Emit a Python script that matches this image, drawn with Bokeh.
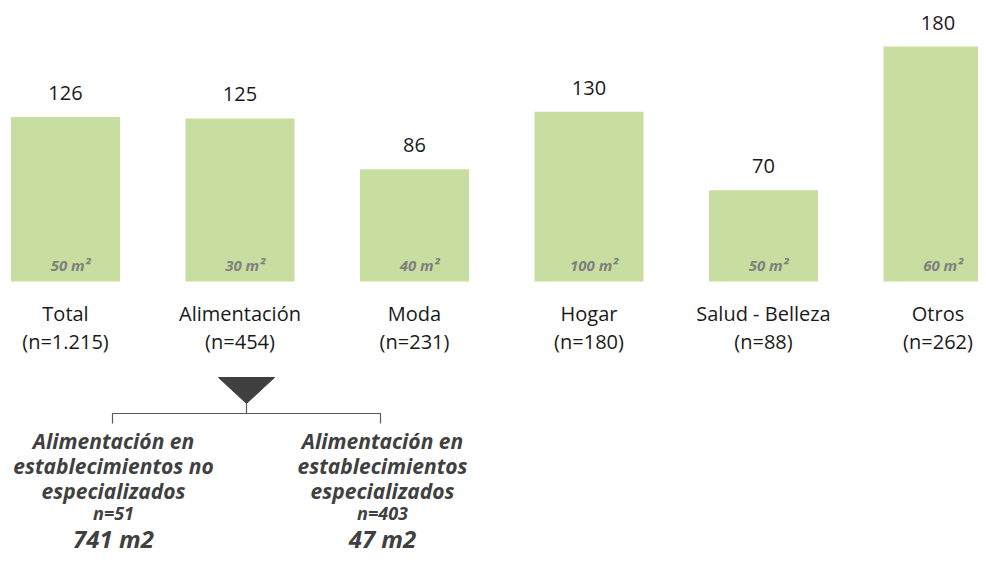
from bokeh.plotting import figure
from bokeh.models import Range1d, ColumnDataSource
from bokeh.core.properties import value
from bokeh.embed import file_html
from bokeh.resources import INLINE

categories = ["Total", "Alimentación", "Moda", "Hogar", "Salud - Belleza", "Otros"]
counts = ["(n=1.215)", "(n=454)", "(n=231)", "(n=180)", "(n=88)", "(n=262)"]
values = [126, 125, 86, 130, 70, 180]
areas = ["50 m²", "30 m²", "40 m²", "100 m²", "50 m²", "60 m²"]

sub_titles = [["Alimentación en", "establecimientos no", "especializados"],
              ["Alimentación en", "establecimientos", "especializados"]]
sub_n = ["n=51", "n=403"]
sub_area = ["741 m2", "47 m2"]

FONT = "Open Sans"
W, H = 978, 554
SPACING = 174.5
PXX = 1 / SPACING  # data units per px (x)
PXY = 1 / 1.305    # data units per px (y)
X0_PX = 65         # px position of first bar center
Y0_PX = 281        # px position of baseline


def dx(px):
    """pixel column -> data x"""
    return (px - X0_PX) * PXX


def dy(px):
    """pixel row -> data y"""
    return (Y0_PX - px) * PXY


p = figure(width=W, height=H, output_backend="svg", toolbar_location=None,
           x_range=Range1d(dx(0), dx(W)),
           y_range=Range1d(dy(H), dy(0)),
           min_border=0, outline_line_color=None)
p.axis.visible = False
p.grid.visible = False
p.background_fill_color = "white"
p.border_fill_color = "white"

TXT = "#1a1a1a"
xs = list(range(len(categories)))
src = ColumnDataSource(dict(x=xs, top=values, cat=categories, cnt=counts,
                            lab=[str(v) for v in values],
                            ly=[v + 24 * PXY for v in values]))
p.vbar(x="x", top="top", bottom=0, width=109 * PXX, source=src,
       fill_color="#c8dea0", line_color=None)

p.text(x="x", y="ly", text="lab", source=src, text_font=value(FONT), text_font_size="20px",
       text_align="center", text_baseline="middle", text_color=TXT)
p.text(x="x", y=dy(313), text="cat", source=src, text_font=value(FONT), text_font_size="20px",
       text_align="center", text_baseline="middle", text_color=TXT)
p.text(x="x", y=dy(341), text="cnt", source=src, text_font=value(FONT), text_font_size="20px",
       text_align="center", text_baseline="middle", text_color=TXT)
src_a = ColumnDataSource(dict(x=[i + 5 * PXX for i in xs], y=[17 * PXY] * 6, area=areas))
p.text(x="x", y="y", text="area", source=src_a, text_font=value(FONT), text_font_size="15px",
       text_font_style="bold italic", text_align="center", text_baseline="middle", text_color="#7f7f7f")

# funnel triangle under Alimentación
cx = dx(246)
p.patch(x=[dx(218), dx(274), cx], y=[dy(377), dy(377), dy(403)],
        fill_color="#404040", line_color="#404040")
# bracket
lx, rx = dx(112), dx(380)
yb = dy(413)
p.multi_line(xs=[[lx, lx, rx, rx], [cx, cx]],
             ys=[[dy(423), yb, yb, dy(423)], [yb, dy(403)]],
             line_color="#595959", line_width=1.2)

centers = [dx(113), dx(382)]
for c, lines, n, a in zip(centers, sub_titles, sub_n, sub_area):
    for k, t in enumerate(lines):
        p.text(x=[c], y=[dy(440 + 25 * k)], text=[t], text_font=value(FONT),
               text_font_size="21px", text_font_style="bold italic", text_align="center",
               text_baseline="middle", text_color="#404040")
    p.text(x=[c], y=[dy(512)], text=[n], text_font=value(FONT),
           text_font_size="18px", text_font_style="bold italic", text_align="center",
           text_baseline="middle", text_color="#404040")
    p.text(x=[c], y=[dy(538)], text=[a], text_font=value(FONT),
           text_font_size="24px", text_font_style="bold italic", text_align="center",
           text_baseline="middle", text_color="#404040")

open("out.html", "w").write(file_html(p, INLINE))
